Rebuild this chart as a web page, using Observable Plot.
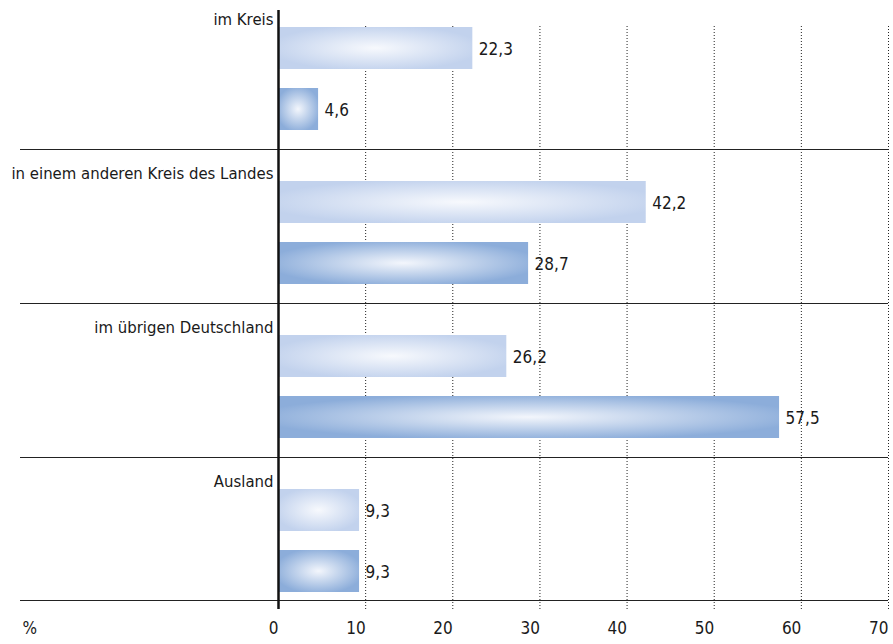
<!DOCTYPE html>
<html>
<head>
<meta charset="utf-8">
<script src="https://cdn.jsdelivr.net/npm/d3@7"></script>
<script src="https://cdn.jsdelivr.net/npm/@observablehq/plot@0.6"></script>
<style>
  html, body { margin: 0; padding: 0; background: #fff; }
  #chart svg { display: block; font-stretch: condensed; }
</style>
</head>
<body>
<div id="chart"></div>
<script>
const categories = ["im Kreis", "in einem anderen Kreis des Landes", "im übrigen Deutschland", "Ausland"];
const series1 = [22.3, 42.2, 26.2, 9.3];
const series2 = [4.6, 28.7, 57.5, 9.3];
const xTicks = [0, 10, 20, 30, 40, 50, 60, 70];
const gridTicks = [10, 20, 30, 40, 50, 60, 70];
const unitLabel = "%";

const rows1 = categories.map((c, i) => ({category: c, value: series1[i]}));
const rows2 = categories.map((c, i) => ({category: c, value: series2[i]}));
const fmt = v => v.toFixed(1).replace(".", ",");

const font = "'DejaVu Sans Condensed', 'DejaVu Sans', sans-serif";
const fs = 17;
const fsCat = 16.6;
const ink = "#1a1a1a";

const chart = Plot.plot({
  width: 893,
  height: 644,
  marginTop: 10,
  marginBottom: 35,
  marginLeft: 20,
  marginRight: 5,
  style: {fontFamily: font, fontSize: fs + "px", color: ink, background: "#fff"},
  x: {domain: [0, 70], range: [278, 888], axis: null},
  y: {domain: categories, range: [-4, 612], padding: 0, axis: null},
  marks: [
    // dotted gridlines
    Plot.ruleX(gridTicks, {stroke: "#222", strokeWidth: 1, strokeDasharray: "1,2", insetTop: 16}),
    // group separators
    Plot.ruleY(categories.slice(0, 3), {stroke: "#222", strokeWidth: 1.2, dy: 76}),
    // bottom line
    Plot.ruleY(categories.slice(3), {stroke: "#222", strokeWidth: 1.2, dy: 65}),
    // bars
    Plot.barX(rows1, {y: "category", x: "value", fill: "url(#gradLight)", insetTop: 31, insetBottom: 81}),
    Plot.barX(rows2, {y: "category", x: "value", fill: "url(#gradDark)", insetTop: 92, insetBottom: 20}),
    // value labels
    Plot.text(rows1, {y: "category", x: "value", text: d => fmt(d.value), textAnchor: "start", dx: 6, dy: -24, fontSize: fs, fill: ink}),
    Plot.text(rows2, {y: "category", x: "value", text: d => fmt(d.value), textAnchor: "start", dx: 6, dy: 37, fontSize: fs, fill: ink}),
    // category labels
    Plot.text(categories, {y: d => d, x: 0, text: d => d, textAnchor: "end", dx: -5, dy: -54, fontSize: fsCat, fill: ink}),
    // vertical axis line
    Plot.ruleX([0], {stroke: "#111", strokeWidth: 2.5}),
    // x tick labels
    Plot.text(xTicks, {x: d => d, text: d => String(d), frameAnchor: "bottom", textAnchor: "end", dx: 0, dy: 24, fontSize: fs, fill: ink}),
    // unit label
    Plot.text([unitLabel], {frameAnchor: "bottom-left", text: d => d, textAnchor: "start", dx: 2, dy: 24, fontSize: fs, fill: ink})
  ]
});

const defs = d3.select(chart).insert("defs", ":first-child");
function addGrad(id, inner, outer) {
  const g = defs.append("radialGradient").attr("id", id).attr("cx", "50%").attr("cy", "50%").attr("r", "55%");
  g.append("stop").attr("offset", "0%").attr("stop-color", inner);
  g.append("stop").attr("offset", "100%").attr("stop-color", outer);
}
addGrad("gradLight", "#f7f9fd", "#c2d2ed");
addGrad("gradDark", "#f3f6fc", "#8cadda");

document.getElementById("chart").appendChild(chart);
</script>
</body>
</html>
